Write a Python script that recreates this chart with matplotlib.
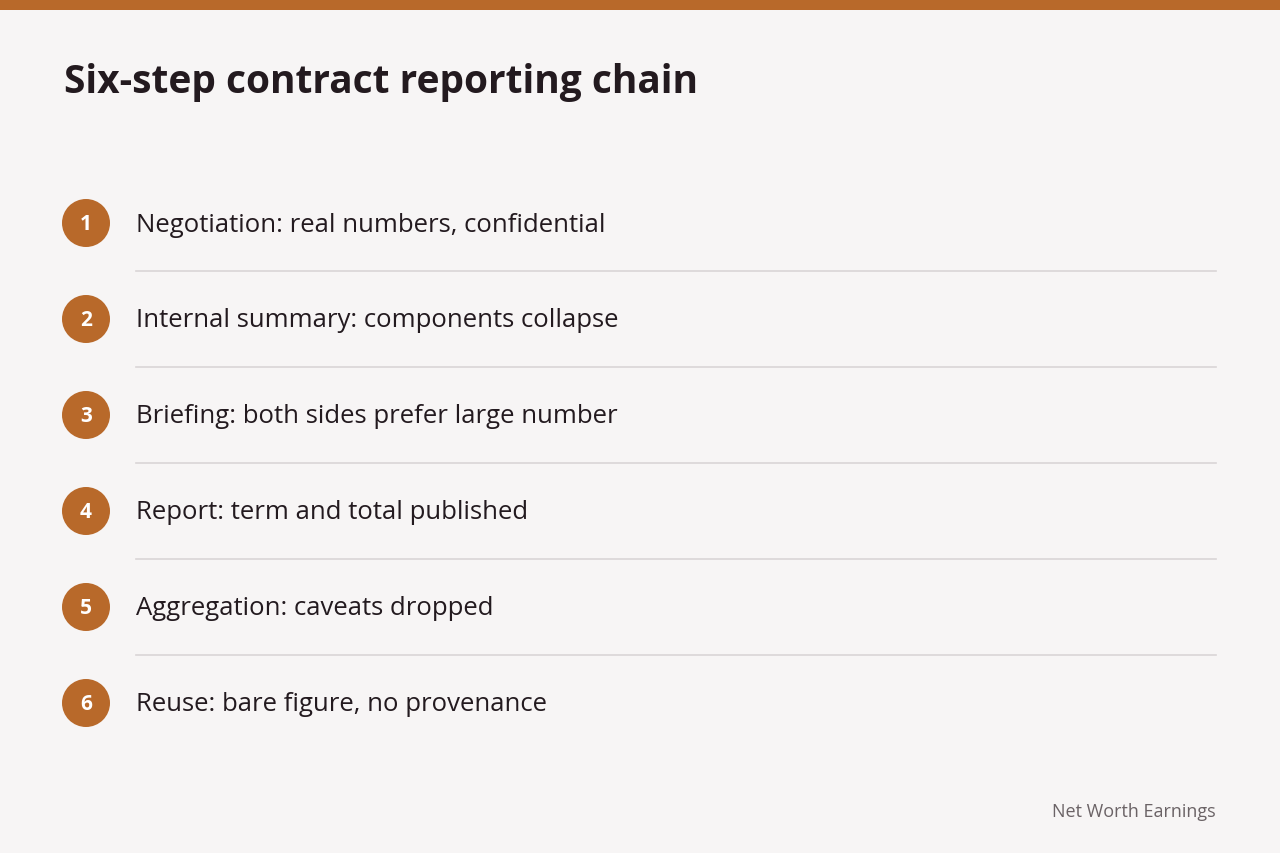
import matplotlib
matplotlib.use("Agg")
import matplotlib.pyplot as plt
from matplotlib.patches import Circle, Rectangle

title = "Six-step contract reporting chain"
step_numbers = [1, 2, 3, 4, 5, 6]
step_labels = [
    "Negotiation: real numbers, confidential",
    "Internal summary: components collapse",
    "Briefing: both sides prefer large number",
    "Report: term and total published",
    "Aggregation: caveats dropped",
    "Reuse: bare figure, no provenance",
]
source = "Net Worth Earnings"

BG = "#f7f5f5"
ACCENT = "#b8692a"
DARK = "#231a1f"
FONT = "Open Sans"

fig = plt.figure(figsize=(12.8, 8.54), dpi=100)
fig.patch.set_facecolor(BG)
ax = fig.add_axes([0, 0, 1, 1])
ax.set_xlim(0, 1280)
ax.set_ylim(854, 0)
ax.axis("off")
ax.set_facecolor(BG)

ax.add_patch(Rectangle((0, 0), 1280, 11, color=ACCENT, lw=0))
ax.text(64, 82, title, fontsize=28, fontweight="bold", color=DARK,
        family=FONT, va="center", ha="left")

y0, dy = 224, 96
for i, (n, lab) in enumerate(zip(step_numbers, step_labels)):
    y = y0 + i * dy
    ax.add_patch(Circle((86, y), 24, color=ACCENT, lw=0))
    ax.text(86, y + 1, str(n), fontsize=15, fontweight="bold", color="white",
            family=FONT, ha="center", va="center")
    ax.text(136, y + 1, lab, fontsize=18.5, color=DARK, family=FONT,
            ha="left", va="center")
    if i < len(step_labels) - 1:
        ax.plot([136, 1216], [y + 48, y + 48], color="#d9d5d6", lw=1.2)

ax.text(1216, 812, source, fontsize=13, color="#6b6366", family=FONT,
        ha="right", va="center")

fig.savefig("out.png", dpi=100, facecolor=BG)
